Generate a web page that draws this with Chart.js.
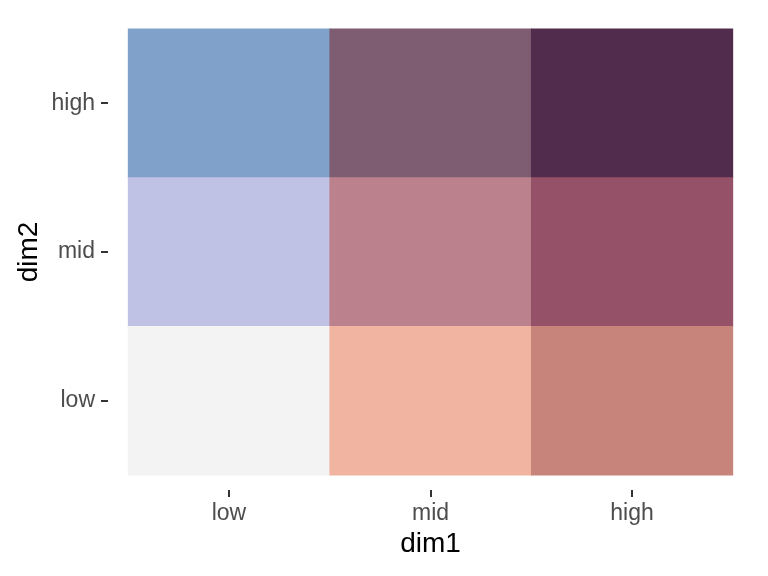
<!DOCTYPE html>
<html>
<head>
<meta charset="utf-8">
<script src="https://cdn.jsdelivr.net/npm/chart.js@4.4.1/dist/chart.umd.min.js"></script>
<style>
  html, body { margin: 0; padding: 0; background: #ffffff; }
  #wrap { width: 768px; height: 576px; }
</style>
</head>
<body>
<div id="wrap"><canvas id="bivar" width="768" height="576"></canvas></div>
<script>
// categories on both axes
const dim1Levels = ['low', 'mid', 'high'];
const dim2Levels = ['low', 'mid', 'high'];

// tile colours, one list per dim2 row (low -> high), ordered by dim1 (low -> high)
const rowLow  = ['#f3f3f3', '#f0b4a1', '#c7847a'];
const rowMid  = ['#bfc2e4', '#bb828e', '#955168'];
const rowHigh = ['#7fa1ca', '#7e5d72', '#522c4c'];
const tileRows = [rowLow, rowMid, rowHigh];

// build one floating-bar dataset per dim2 row
const datasets = dim2Levels.map((lvl, j) => ({
    label: 'dim2 ' + lvl,
    data: dim1Levels.map((d, i) => ({ x: i + 1, y: [j + 0.5, j + 1.5] })),
    backgroundColor: tileRows[j],
    borderWidth: 0,
    borderSkipped: false,
    grouped: false,
    barPercentage: 1,
    categoryPercentage: 1
}));

const tickFont = { family: 'Liberation Sans, Arial, sans-serif', size: 23 };
const titleFont = { family: 'Liberation Sans, Arial, sans-serif', size: 28 };

function fixedTicks(scale) {
    scale.ticks = [1, 2, 3].map(v => ({ value: v }));
}

// no extra room for the edge labels, the panel is set by layout padding
function noEdgePadding(s) {
    s.paddingTop = 0;
    s.paddingBottom = 0;
    s.paddingLeft = 0;
    s.paddingRight = 0;
}

new Chart(document.getElementById('bivar'), {
    type: 'bar',
    data: { datasets: datasets },
    options: {
        responsive: false,
        animation: false,
        layout: { padding: { top: 14, right: 15, left: 0, bottom: 0 } },
        plugins: {
            legend: { display: false },
            tooltip: { enabled: false }
        },
        scales: {
            x: {
                type: 'linear',
                min: 0.4,
                max: 3.6,
                offset: false,
                afterBuildTicks: fixedTicks,
                afterFit: s => { s.height = 86; noEdgePadding(s); },
                border: { display: false },
                grid: {
                    offset: false,
                    drawOnChartArea: false,
                    drawTicks: true,
                    tickLength: 7,
                    color: '#333333',
                    lineWidth: 2
                },
                ticks: {
                    callback: v => dim1Levels[v - 1],
                    color: '#4d4d4d',
                    font: tickFont,
                    padding: 3,
                    maxRotation: 0
                },
                title: {
                    display: true,
                    text: 'dim1',
                    color: '#000000',
                    font: titleFont,
                    padding: { top: 0, bottom: 15 }
                }
            },
            y: {
                type: 'linear',
                min: 0.4,
                max: 3.6,
                offset: false,
                afterBuildTicks: fixedTicks,
                afterFit: s => { s.width = 108; noEdgePadding(s); },
                border: { display: false },
                grid: {
                    offset: false,
                    drawOnChartArea: false,
                    drawTicks: true,
                    tickLength: 7,
                    color: '#333333',
                    lineWidth: 2
                },
                ticks: {
                    callback: v => dim2Levels[v - 1],
                    color: '#4d4d4d',
                    font: tickFont,
                    padding: 6
                },
                title: {
                    display: true,
                    text: 'dim2',
                    color: '#000000',
                    font: titleFont,
                    padding: { top: 12, bottom: 0 }
                }
            }
        }
    }
});
</script>
</body>
</html>
